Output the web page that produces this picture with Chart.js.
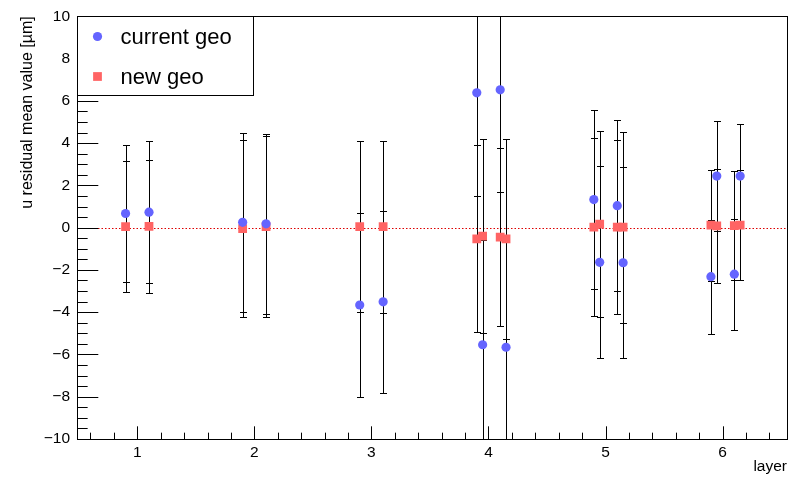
<!DOCTYPE html>
<html>
<head>
<meta charset="utf-8">
<script src="https://cdn.jsdelivr.net/npm/chart.js@4.4.1/dist/chart.umd.min.js"></script>
<style>
  html, body { margin: 0; padding: 0; background: #fff; }
</style>
</head>
<body>
<canvas id="residuals" width="800" height="477"></canvas>
<script>
// layer positions (each layer split into sensors, shifted a little so the bars don't overlap)
const layerPositions = [0.9, 1.1, 1.9, 2.1, 2.9, 3.1, 3.9, 3.95, 4.1, 4.15, 4.9, 4.95, 5.1, 5.15, 5.9, 5.95, 6.1, 6.15];

// mean u residual and its error, current geometry
const currentMean = [0.67, 0.73, 0.25, 0.18, -3.66, -3.51, 6.38, -5.54, 6.52, -5.66, 1.33, -1.64, 1.04, -1.66, -2.32, 2.44, -2.2, 2.44];
const currentErr = [3.25, 3.35, 4.22, 4.27, 4.33, 4.29, 4.9, 4.94, 4.84, 4.99, 4.25, 4.55, 4.03, 4.51, 2.7, 2.6, 2.62, 2.45];

// mean u residual and its error, new geometry
const newMean = [0.05, 0.06, -0.05, 0.05, 0.05, 0.05, -0.53, -0.4, -0.45, -0.53, 0.02, 0.17, 0.02, 0.02, 0.12, 0.08, 0.1, 0.12];
const newErr = [3.08, 3.16, 4.2, 4.27, 4.06, 4.07, 4.42, 4.6, 4.2, 4.73, 4.2, 4.42, 4.12, 4.52, 2.63, 2.69, 2.6, 2.6];

const xTicks = [1, 2, 3, 4, 5, 6];
const yTicks = [-10, -8, -6, -4, -2, 0, 2, 4, 6, 8, 10];

const labelFont = { family: 'Liberation Sans, Arial, sans-serif', size: 15.5 };

function toPoints(means) {
    return layerPositions.map((lx, i) => ({ x: lx, y: means[i] }));
}

// error bars, zero line, inside ticks, frame and the boxed legend
const rootStyle = {
    id: 'rootStyle',
    beforeDatasetsDraw(chart) {
        const { ctx, chartArea: a, scales: { x, y } } = chart;
        ctx.save();
        ctx.beginPath();
        ctx.rect(a.left, a.top, a.right - a.left, a.bottom - a.top);
        ctx.clip();

        // dotted line at zero
        const y0 = Math.round(y.getPixelForValue(0)) + 0.5;
        ctx.strokeStyle = '#dd0000';
        ctx.lineWidth = 1;
        ctx.setLineDash([1.5, 2]);
        ctx.beginPath();
        ctx.moveTo(a.left, y0);
        ctx.lineTo(a.right, y0);
        ctx.stroke();
        ctx.setLineDash([]);

        // symmetric error bars with small caps
        ctx.strokeStyle = '#000';
        const drawBars = (means, errs) => {
            layerPositions.forEach((lx, i) => {
                const px = Math.round(x.getPixelForValue(lx)) + 0.5;
                const hi = Math.round(y.getPixelForValue(means[i] + errs[i])) + 0.5;
                const lo = Math.round(y.getPixelForValue(means[i] - errs[i])) + 0.5;
                ctx.beginPath();
                ctx.moveTo(px, hi);
                ctx.lineTo(px, lo);
                ctx.moveTo(px - 3.5, hi);
                ctx.lineTo(px + 3.5, hi);
                ctx.moveTo(px - 3.5, lo);
                ctx.lineTo(px + 3.5, lo);
                ctx.stroke();
            });
        };
        drawBars(newMean, newErr);
        drawBars(currentMean, currentErr);
        ctx.restore();
    },
    afterDraw(chart) {
        const { ctx, chartArea: a, scales: { x, y } } = chart;
        const w = a.right - a.left;
        const h = a.bottom - a.top;
        ctx.save();
        ctx.strokeStyle = '#000';
        ctx.lineWidth = 1;

        // y ticks: major every 2, minor every 0.5
        ctx.beginPath();
        for (let v = y.min; v <= y.max + 1e-9; v += 0.5) {
            const py = Math.round(y.getPixelForValue(v)) + 0.5;
            const len = (Math.abs(v % 2) < 1e-9) ? 0.03 * w : 0.015 * w;
            ctx.moveTo(a.left, py);
            ctx.lineTo(a.left + len, py);
        }
        // x ticks: major every 1, minor every 0.2
        for (let k = Math.ceil(x.min / 0.2); k * 0.2 <= x.max; k++) {
            const v = k * 0.2;
            const px = Math.round(x.getPixelForValue(v)) + 0.5;
            const len = (k % 5 === 0) ? 0.03 * h : 0.015 * h;
            ctx.moveTo(px, a.bottom);
            ctx.lineTo(px, a.bottom - len);
        }
        ctx.stroke();

        // frame
        ctx.strokeRect(Math.round(a.left) + 0.5, Math.round(a.top) + 0.5, Math.round(w), Math.round(h));

        // legend box
        const lx = Math.round(a.left) + 0.5, ly = Math.round(a.top) + 0.5;
        ctx.fillStyle = '#fff';
        ctx.fillRect(lx, ly, 176, 79);
        ctx.strokeRect(lx, ly, 176, 79);
        ctx.font = '22px "Liberation Sans", Arial, sans-serif';
        ctx.textBaseline = 'middle';
        ctx.fillStyle = '#000';
        chart.data.datasets.forEach((ds, i) => {
            const cy = ly + 20 + i * 40;
            ctx.fillStyle = ds.backgroundColor;
            Chart.helpers.drawPoint(ctx, { pointStyle: ds.pointStyle, radius: ds.pointRadius, borderWidth: 0, rotation: 0 }, lx + 20, cy);
            ctx.fillStyle = '#000';
            ctx.fillText(ds.label, lx + 43, cy + 1);
        });
        ctx.restore();
    }
};

new Chart(document.getElementById('residuals'), {
    type: 'scatter',
    data: {
        datasets: [{
            label: 'current geo',
            data: toPoints(currentMean),
            backgroundColor: '#6464ff',
            borderWidth: 0,
            pointStyle: 'circle',
            pointRadius: 4.6,
            pointHoverRadius: 4.6
        }, {
            label: 'new geo',
            data: toPoints(newMean),
            backgroundColor: '#ff6464',
            borderWidth: 0,
            pointStyle: 'rect',
            pointRadius: 6.2,
            pointHoverRadius: 6.2
        }]
    },
    options: {
        responsive: false,
        animation: false,
        layout: { padding: { left: 0, top: 14, right: 13, bottom: 0 } },
        plugins: {
            legend: { display: false },
            tooltip: { enabled: false }
        },
        scales: {
            x: {
                type: 'linear',
                min: 0.485,
                max: 6.55,
                grid: { display: false, drawTicks: false },
                border: { display: false },
                afterBuildTicks: scale => { scale.ticks = xTicks.map(v => ({ value: v })); },
                afterFit: scale => { scale.height = 38; },
                ticks: { color: '#000', font: labelFont, padding: 4, maxRotation: 0 },
                title: { display: true, text: 'layer', align: 'end', color: '#000', font: labelFont, padding: { top: 0, bottom: 1 } }
            },
            y: {
                type: 'linear',
                min: -10,
                max: 10,
                grid: { display: false, drawTicks: false },
                border: { display: false },
                afterBuildTicks: scale => { scale.ticks = yTicks.map(v => ({ value: v })); },
                afterFit: scale => { scale.width = 77; },
                ticks: {
                    color: '#000',
                    font: labelFont,
                    padding: 7,
                    callback: v => (v < 0 ? '\u2212' + Math.abs(v) : String(v))
                },
                title: { display: true, text: 'u residual mean value [\u00b5m]', align: 'end', color: '#000', font: { family: 'Liberation Sans, Arial, sans-serif', size: 16 }, padding: { top: 18, bottom: 0 } }
            }
        }
    },
    plugins: [rootStyle]
});
</script>
</body>
</html>
